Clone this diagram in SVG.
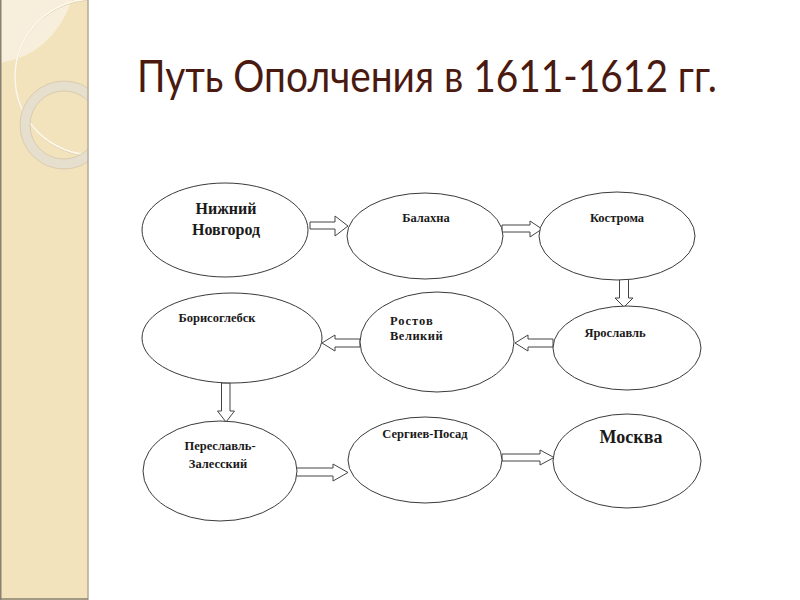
<svg xmlns="http://www.w3.org/2000/svg" width="800" height="600" viewBox="0 0 800 600">
<style>
.node ellipse{fill:#ffffff;stroke:#3a3a3a;stroke-width:1}
.lbl{font-family:"Liberation Serif","Times New Roman",serif;font-weight:bold;fill:#1a1a1a;font-size:12.5px}
.lbl.big{font-size:16px}
.lbl.xl{font-size:18px}
.arr polygon{fill:#ffffff;stroke:#444444;stroke-width:1;stroke-linejoin:miter}
</style>
<rect x="0" y="0" width="800" height="600" fill="#ffffff"/>
<g id="strip">
<rect x="0" y="0" width="88" height="600" fill="#f3e3bc"/>
<path d="M0,0 L72,0 Q52,55 0,63 Z" fill="#f7eedb"/>
<circle cx="93" cy="78" r="78" fill="none" stroke="#d9caa5" stroke-width="1"/>
<circle cx="93" cy="77" r="78" fill="none" stroke="#fdf8ec" stroke-width="1.6"/>
<circle cx="64" cy="125" r="39" fill="none" stroke="#e6dfce" stroke-width="10"/>
<circle cx="64" cy="125" r="44" fill="none" stroke="#d3c6a8" stroke-width="0.8"/>
<circle cx="64" cy="125" r="34" fill="none" stroke="#d3c6a8" stroke-width="0.8"/>
<rect x="88" y="0" width="712" height="600" fill="#ffffff"/>
<line x1="88" y1="0" x2="88" y2="600" stroke="#b5ab97" stroke-width="1.5"/>
<line x1="0.75" y1="0" x2="0.75" y2="600" stroke="#8a8070" stroke-width="1.5"/>
<line x1="0" y1="599" x2="88" y2="599" stroke="#8a8070" stroke-width="1.5"/>
</g>
<text id="title" x="137" y="92" textLength="580" lengthAdjust="spacingAndGlyphs" font-family="Lato,'Open Sans',sans-serif" font-size="44" fill="#4a1a10">Путь Ополчения в 1611-1612 гг.</text>
<g id="connectors" class="arr">
<polygon points="310,222 335,222 335,216 348,226 335,236 335,229 310,229"/>
<polygon points="502,225 530,225 530,221 542,229 530,237 530,232 502,232"/>
<polygon points="619.5,279 628.5,279 628.5,298 633,298 624,307 615,298 619.5,298"/>
<polygon points="553,339 528,339 528,335 515,343 528,351 528,347 553,347"/>
<polygon points="360,339 335,339 335,335 322,343 335,351 335,347 360,347"/>
<polygon points="221.5,383 230,383 230,411 234.5,411 226,422 217.5,411 221.5,411"/>
<polygon points="296,468 333,468 333,464 348,472.5 333,481 333,476 296,476"/>
<polygon points="502,454 540,454 540,450 554,457.5 540,465 540,461 502,461"/>
</g>
<g id="n1" class="node"><ellipse cx="225" cy="230" rx="83" ry="47"/><text class="lbl big" x="226" y="214" text-anchor="middle">Нижний</text><text class="lbl big" x="226" y="235" text-anchor="middle">Новгород</text></g>
<g id="n2" class="node"><ellipse cx="425" cy="236" rx="78" ry="43"/><text class="lbl" x="426" y="222" text-anchor="middle">Балахна</text></g>
<g id="n3" class="node"><ellipse cx="617" cy="236" rx="78" ry="44"/><text class="lbl" x="617" y="222" text-anchor="middle">Кострома</text></g>
<g id="n4" class="node"><ellipse cx="627" cy="348" rx="74" ry="42"/><text class="lbl" x="615" y="337" text-anchor="middle">Ярославль</text></g>
<g id="n5" class="node"><ellipse cx="437" cy="342" rx="77" ry="50"/><text class="lbl" x="390" y="325" letter-spacing="1">Ростов</text><text class="lbl" x="390" y="340" letter-spacing="0.5">Великий</text></g>
<g id="n6" class="node"><ellipse cx="232" cy="338" rx="90" ry="45"/><text class="lbl" x="217" y="322" text-anchor="middle">Борисоглебск</text></g>
<g id="n7" class="node"><ellipse cx="220" cy="471" rx="77" ry="50"/><text class="lbl" x="220" y="450" text-anchor="middle">Переславль-</text><text class="lbl" x="218" y="468" text-anchor="middle">Залесский</text></g>
<g id="n8" class="node"><ellipse cx="425" cy="460" rx="77" ry="43"/><text class="lbl" x="425" y="438" text-anchor="middle">Сергиев-Посад</text></g>
<g id="n9" class="node"><ellipse cx="627" cy="461" rx="74" ry="47"/><text class="lbl xl" x="631" y="443" text-anchor="middle">Москва</text></g>
</svg>
